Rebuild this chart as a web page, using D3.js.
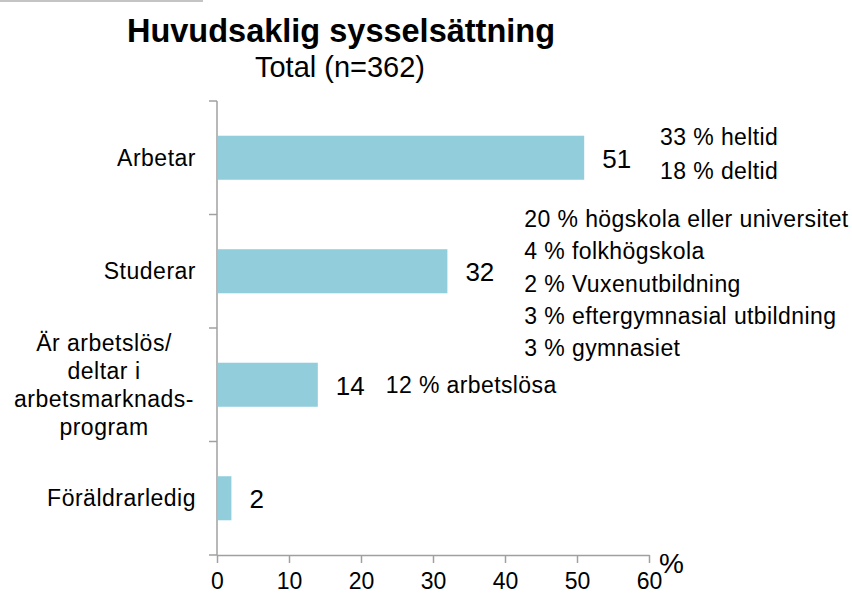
<!DOCTYPE html>
<html>
<head>
<meta charset="utf-8">
<script src="https://cdn.jsdelivr.net/npm/d3@7"></script>
<style>
  body { margin: 0; background: #fff; }
  text { font-family: "Liberation Sans", Arial, sans-serif; fill: #000; }
</style>
</head>
<body>
<div id="chart"></div>
<script>
// chart data
var categories = ["Arbetar", "Studerar", "Är arbetslös/\ndeltar i\narbetsmarknads-\nprogram", "Föräldrarledig"];
var values = [51, 32, 14, 2];
var xTicks = [0, 10, 20, 30, 40, 50, 60];
var titleText = "Huvudsaklig sysselsättning";
var subtitleText = "Total (n=362)";
var noteArbetar = ["33 % heltid", "18 % deltid"];
var noteStuderar = ["20 % högskola eller universitet", "4 % folkhögskola", "2 % Vuxenutbildning", "3 % eftergymnasial utbildning", "3 % gymnasiet"];
var noteArbetslos = ["12 % arbetslösa"];

var width = 852, height = 594;
var margin = {top: 101, right: 203, bottom: 39, left: 217};

var svg = d3.select("#chart")
  .append("svg")
    .attr("width", width)
    .attr("height", height);

// small grey edge at top-left
svg.append("line")
  .attr("x1", 0).attr("x2", 203)
  .attr("y1", 1).attr("y2", 1)
  .style("stroke", "#c4c4c4")
  .style("stroke-width", 2);

// titles
svg.append("text")
  .attr("x", 341).attr("y", 42)
  .attr("text-anchor", "middle")
  .style("font-size", "32.5px")
  .style("font-weight", "bold")
  .text(titleText);
svg.append("text")
  .attr("x", 340).attr("y", 77)
  .attr("text-anchor", "middle")
  .style("font-size", "29px")
  .text(subtitleText);

// scales
var x = d3.scaleLinear()
  .domain([0, 60])
  .range([margin.left, width - margin.right]);
var y = d3.scaleBand()
  .domain(categories)
  .range([margin.top, height - margin.bottom])
  .paddingInner(0.612)
  .paddingOuter(0.306);

var axisColor = "#a0a0a0";
var baseY = height - margin.bottom;

// x axis
var xAxis = svg.append("g")
  .attr("transform", "translate(0," + baseY + ")")
  .call(d3.axisBottom(x).tickValues(xTicks).tickSize(8).tickSizeOuter(0).tickPadding(10));
xAxis.select(".domain").style("stroke", axisColor).style("stroke-width", 1.5);
xAxis.selectAll(".tick line").style("stroke", axisColor).style("stroke-width", 1.5);
xAxis.selectAll(".tick text")
  .style("font-size", "23px")
  .style("font-family", "Liberation Sans, Arial, sans-serif")
  .attr("fill", "#000");

svg.append("text")
  .attr("x", x(60) + 10).attr("y", baseY + 18)
  .style("font-size", "28px")
  .text("%");

// y axis: line with category-boundary ticks
var step = y.step();
var bounds = d3.range(categories.length + 1).map(function(i) { return margin.top + i * step; });
svg.append("line")
  .attr("x1", x(0)).attr("x2", x(0))
  .attr("y1", margin.top).attr("y2", baseY)
  .style("stroke", axisColor).style("stroke-width", 1.5);
svg.selectAll(".ytick")
  .data(bounds)
  .enter().append("line")
    .attr("class", "ytick")
    .attr("x1", x(0) - 8).attr("x2", x(0))
    .attr("y1", function(d) { return d; })
    .attr("y2", function(d) { return d; })
    .style("stroke", axisColor).style("stroke-width", 1.5);

// bars
svg.selectAll(".bar")
  .data(values)
  .enter().append("rect")
    .attr("class", "bar")
    .attr("x", x(0) + 1)
    .attr("y", function(d, i) { return y(categories[i]); })
    .attr("width", function(d) { return x(d) - x(0) - 1; })
    .attr("height", y.bandwidth())
    .style("fill", "#92cddc");

// value labels
var labelGap = 18;
var valueLabels = svg.selectAll(".val")
  .data(values)
  .enter().append("text")
    .attr("class", "val")
    .attr("x", function(d) { return x(d) + labelGap; })
    .attr("y", function(d, i) { return y(categories[i]) + y.bandwidth() / 2 + 10; })
    .style("font-size", "26px")
    .text(function(d) { return d; });

// category labels (multi-line, centred block, right edge near axis)
var catLineH = 28;
categories.forEach(function(c) {
  var lines = c.split("\n");
  var cy = y(c) + y.bandwidth() / 2;
  var t = svg.append("text")
    .style("font-size", "23px")
    .style("letter-spacing", "0.5px");
  if (lines.length === 1) {
    t.attr("text-anchor", "end")
      .attr("x", x(0) - 21)
      .attr("y", cy + 8)
      .text(c);
  } else {
    t.attr("text-anchor", "middle");
    lines.forEach(function(l, j) {
      t.append("tspan")
        .attr("x", 104)
        .attr("y", cy + 8 + (j - (lines.length - 1) / 2) * catLineH)
        .text(l);
    });
  }
});

// notes next to bars
function note(lines, ci, gap, first, spacing) {
  var i = ci;
  var lbl = valueLabels.nodes()[i];
  var x0 = x(values[i]) + labelGap + lbl.getComputedTextLength() + gap;
  var cy = y(categories[i]) + y.bandwidth() / 2;
  svg.append("g").selectAll("text")
    .data(lines)
    .enter().append("text")
      .attr("x", x0)
      .attr("y", function(d, j) { return cy + first + j * spacing + 8; })
      .style("font-size", "23px")
      .style("letter-spacing", "0.4px")
      .text(function(d) { return d; });
}
note(noteArbetar, 0, 29, -21, 34);
note(noteStuderar, 1, 30, -52, 32.2);
note(noteArbetslos, 2, 21, 0, 0);
</script>
</body>
</html>
